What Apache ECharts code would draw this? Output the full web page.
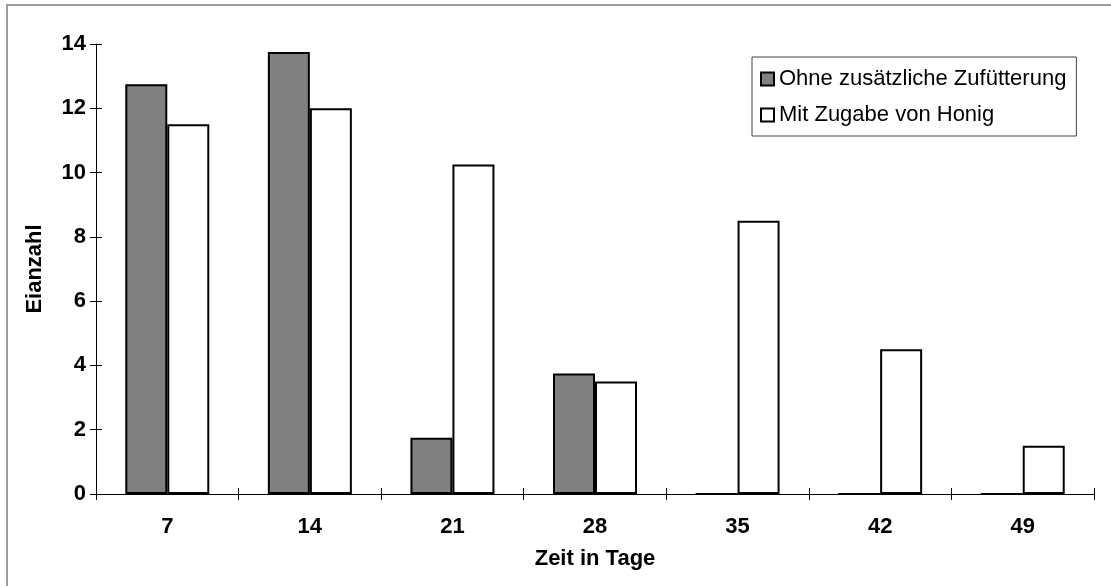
<!DOCTYPE html>
<html>
<head>
<meta charset="utf-8">
<script src="https://cdn.jsdelivr.net/npm/echarts@6/dist/echarts.min.js"></script>
<style>
html,body{margin:0;padding:0;background:#fff;}
#chart{width:1111px;height:586px;}
</style>
</head>
<body>
<div id="chart"></div>
<script>
const categories = ['7', '14', '21', '28', '35', '42', '49'];
const ohneZufuetterung = [12.75, 13.75, 1.75, 3.75, 0, 0, 0];
const mitHonig = [11.5, 12, 10.25, 3.5, 8.5, 4.5, 1.5];
const seriesNames = ['Ohne zusätzliche Zufütterung', 'Mit Zugabe von Honig'];
const xTitle = 'Zeit in Tage';
const yTitle = 'Eianzahl';

const FONT = '"Liberation Sans", Arial, sans-serif';
const FS = 22;
const chart = echarts.init(document.getElementById('chart'), null, {renderer: 'canvas'});

const yBase = {
  type: 'value', min: 0, max: 14, interval: 2, position: 'left',
  splitLine: {show: false}
};
const xBase = {
  type: 'category', data: categories, position: 'bottom',
  boundaryGap: true
};

chart.setOption({
  animation: false,
  backgroundColor: '#ffffff',
  graphic: [{
    type: 'rect', silent: true, z: 100,
    shape: {x: 7, y: 5, width: 1200, height: 700},
    style: {fill: 'none', stroke: '#7f7f7f', lineWidth: 1.5}
  }],
  grid: {left: 96, top: 44, right: 17, bottom: 92, containLabel: false},
  legend: {
    orient: 'vertical', left: 752, top: 57,
    padding: [11, 10, 10, 8], itemGap: 14,
    itemWidth: 13, itemHeight: 13,
    borderColor: '#404040', borderWidth: 1,
    backgroundColor: '#fff',
    icon: 'rect',
    textStyle: {fontFamily: FONT, fontSize: FS, color: '#000'},
    data: seriesNames
  },
  xAxis: [
    Object.assign({}, xBase, {
      name: xTitle, nameLocation: 'middle', nameGap: 54,
      nameTextStyle: {fontFamily: FONT, fontSize: FS, fontWeight: 'bold', color: '#000'},
      axisLine: {show: true, lineStyle: {color: '#000', width: 1}},
      axisTick: {show: true, inside: false, length: 6, lineStyle: {color: '#000'}},
      axisLabel: {fontFamily: FONT, fontSize: FS, fontWeight: 'bold', color: '#000', margin: 22}
    }),
    Object.assign({}, xBase, {
      axisLine: {show: false},
      axisTick: {show: true, inside: true, length: 6, lineStyle: {color: '#000'}},
      axisLabel: {show: false}
    })
  ],
  yAxis: [
    Object.assign({}, yBase, {
      name: yTitle, nameLocation: 'middle', nameGap: 50, nameRotate: 90,
      nameTextStyle: {fontFamily: FONT, fontSize: FS, fontWeight: 'bold', color: '#000'},
      axisLine: {show: true, lineStyle: {color: '#000', width: 1}},
      axisTick: {show: true, inside: false, length: 6, lineStyle: {color: '#000'}},
      axisLabel: {fontFamily: FONT, fontSize: FS, fontWeight: 'bold', color: '#000', margin: 10}
    }),
    Object.assign({}, yBase, {
      axisLine: {show: false},
      axisTick: {show: true, inside: true, length: 6, lineStyle: {color: '#000'}},
      axisLabel: {show: false}
    })
  ],
  series: [
    {
      name: seriesNames[0], type: 'bar', data: ohneZufuetterung,
      xAxisIndex: 0, yAxisIndex: 0,
      barWidth: 42, barGap: '0%',
      itemStyle: {color: '#808080', borderColor: '#000', borderWidth: 2}
    },
    {
      name: seriesNames[1], type: 'bar', data: mitHonig,
      xAxisIndex: 0, yAxisIndex: 0,
      barWidth: 42, barGap: '0%',
      itemStyle: {color: '#ffffff', borderColor: '#000', borderWidth: 2}
    }
  ]
});
</script>
</body>
</html>
